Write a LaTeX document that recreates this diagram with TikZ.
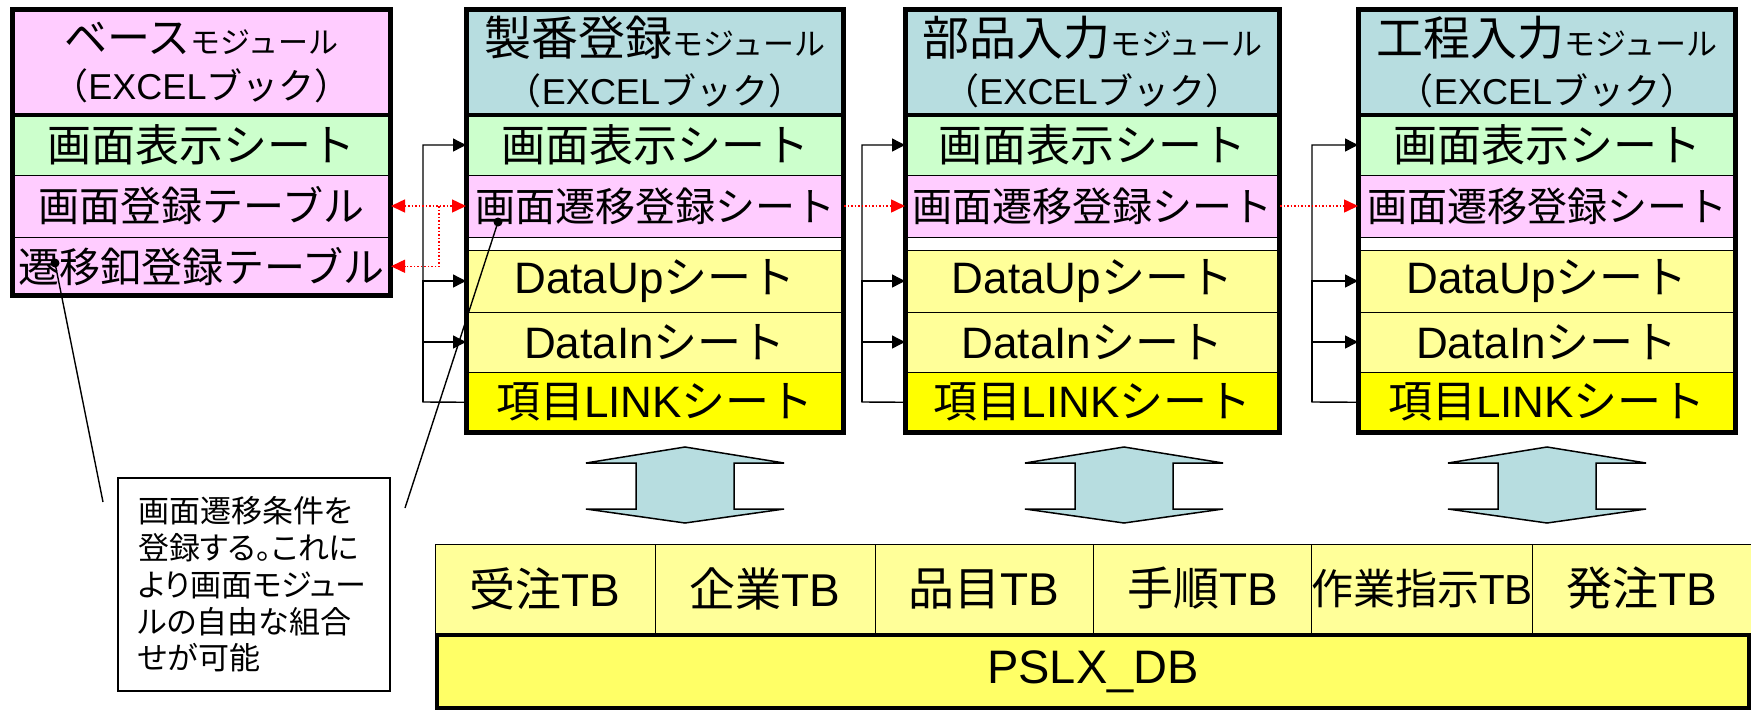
\documentclass[tikz,border=0pt]{standalone}
\usepackage{fontspec}
\setmainfont{Noto Sans CJK JP}
\newfontfamily\latf{Liberation Sans}
\newfontfamily\jpprop[RawFeature=+palt]{Noto Sans CJK JP}
\usetikzlibrary{arrows.meta}
\definecolor{hdrblue}{HTML}{B7DDE0}
\definecolor{pinkc}{HTML}{FFCCFF}
\definecolor{greenc}{HTML}{CCFFCC}
\definecolor{ylw}{HTML}{FFFF99}
\definecolor{ylwb}{HTML}{FFFF00}
\definecolor{dbc}{HTML}{FFFF66}
\newcommand\fsz[1]{\fontsize{#1}{#1}\selectfont}
\newcommand\cell[7]{%
  \pgfmathsetmacro\cx{(#2+#3)/2}\pgfmathsetmacro\cy{(#4+#5)/2}%
  \pgfmathsetmacro\cw{#3-#2}\pgfmathsetmacro\ch{#5-#4}%
  \node[cellbox, fill=#6, minimum width=\cw pt, minimum height=\ch pt] (#1) at (\cx,\cy) {#7};}
\newcommand\modhdr[1]{\fsz{47}#1{\fsz{31}モジュール}\\[13pt]\fontsize{36}{36}\selectfont（{\latf EXCEL}ブック）}
\newcommand\mkmod[4]{%
  \cell{#1h}{#2}{#3}{9.5}{115}{hdrblue}{\modhdr{#4}}
  \cell{#1a}{#2}{#3}{115}{175}{greenc}{\fsz{44}画面表示シート}
  \cell{#1b}{#2}{#3}{175}{237}{pinkc}{\fsz{40}画面遷移登録シート}
  \cell{#1g}{#2}{#3}{237}{250}{white}{}
  \cell{#1d}{#2}{#3}{250}{312}{ylw}{\fsz{44}{\latf DataUp}シート}
  \cell{#1e}{#2}{#3}{312}{372}{ylw}{\fsz{44}{\latf DataIn}シート}
  \cell{#1f}{#2}{#3}{372}{432.5}{ylwb}{\fsz{44}項目{\latf LINK}シート}
  \draw[frame] (#2,9.5) rectangle (#3,115);
  \draw[frame] (#2,115) rectangle (#3,432.5);
}
\begin{document}
\begin{tikzpicture}[x=1pt,y=-1pt,
  cellbox/.style={draw, line width=1pt, inner sep=0pt, anchor=center, align=center},
  frame/.style={draw, line width=4.5pt},
  conn/.style={line width=1.4pt, -{Triangle[length=13pt,width=13pt]}},
  rdot/.style={red, line width=1.5pt, dotted},
  rtip/.tip={Triangle[length=14pt,width=13pt]},
  barrow/.style={draw, line width=1.5pt, fill=hdrblue, line join=miter},
  callout/.style={draw, line width=1.2pt, align=left, inner xsep=20pt, inner ysep=0pt,
    text width=232pt, minimum width=272pt, minimum height=213pt,
    font=\jpprop\fontsize{31}{36.7}\selectfont},
  dotn/.style={circle, fill=black, inner sep=0pt, minimum size=9pt},
  pointer/.style={line width=1.4pt}]
\useasboundingbox (0,0) rectangle (1751,710);
\fill[white] (0,0) rectangle (1751,710);

% base module
\cell{bh}{12.5}{390.5}{9.5}{115}{pinkc}{\fsz{43}ベース{\fsz{30}モジュール}\\[13pt]\fontsize{36}{36}\selectfont（{\latf EXCEL}ブック）}
\cell{ba}{12.5}{390.5}{115}{175}{greenc}{\fsz{44}画面表示シート}
\cell{bb}{12.5}{390.5}{175}{237}{pinkc}{\fsz{41}画面登録テーブル}
\cell{bc}{12.5}{390.5}{237}{295.5}{pinkc}{\fsz{41}遷移釦登録テーブル}
\draw[frame] (12.5,9.5) rectangle (390.5,115);
\draw[frame] (12.5,115) rectangle (390.5,295.5);

% screen modules
\mkmod{m1}{466.5}{843.5}{製番登録}
\mkmod{m2}{905.5}{1279.5}{部品入力}
\mkmod{m3}{1358.5}{1735.5}{工程入力}

% black connectors
\coordinate (m1v) at (423,402);
\coordinate (m2v) at (862,402);
\coordinate (m3v) at (1312,402);
\foreach \m in {m1,m2,m3}{
  \draw[conn] (\m f.west) -- (\m v) |- (\m a.west);
  \draw[conn] (\m v) |- (\m d.west);
  \draw[conn] (\m v) |- (\m e.west);
}

% red dotted transitions
\draw[rdot, rtip-rtip] (bb.east) -- (m1b.west);
\coordinate (rj) at (439,206);
\draw[rdot, -rtip] (rj) |- (bc.east);
\draw[rdot, -rtip] (m1b.east) -- (m2b.west);
\draw[rdot, -rtip] (m2b.east) -- (m3b.west);

% block double arrows
\foreach \c in {685,1124,1547}{
  \draw[barrow] (\c,447) -- (\c+99,463) -- (\c+49,463) -- (\c+49,509) -- (\c+99,509)
    -- (\c,523) -- (\c-99,509) -- (\c-49,509) -- (\c-49,463) -- (\c-99,463) -- cycle;
}

% tables
\cell{t1}{435}{655}{544}{633}{ylw}{\fsz{46}受注{\latf TB}}
\cell{t2}{655}{875}{544}{633}{ylw}{\fsz{46}企業{\latf TB}}
\cell{t3}{875}{1093}{544}{633}{ylw}{\fsz{46}品目{\latf TB}}
\cell{t4}{1093}{1312}{544}{633}{ylw}{\fsz{46}手順{\latf TB}}
\cell{t5}{1312}{1532}{544}{633}{ylw}{\fsz{42}作業指示{\latf TB}}
\cell{t6}{1532}{1751}{544}{633}{ylw}{\fsz{46}発注{\latf TB}}
\cell{db}{437}{1749}{635}{708}{dbc}{\fsz{47}\latf PSLX\_DB}
\draw[line width=4pt] (437,635) rectangle (1749,708);

% callout
\node[callout] (note) at (254,584.5) {画面遷移条件を\\登録する。これに\\より画面モジュー\\ルの自由な組合\\せが可能};
\node[dotn] (d1) at (55,263) {};
\node[dotn] (d2) at (498,222) {};
\coordinate (c1) at (103,502);
\coordinate (c2) at (405,508);
\draw[pointer] (d1.center) -- (c1);
\draw[pointer] (d2.center) -- (c2);
\end{tikzpicture}
\end{document}
